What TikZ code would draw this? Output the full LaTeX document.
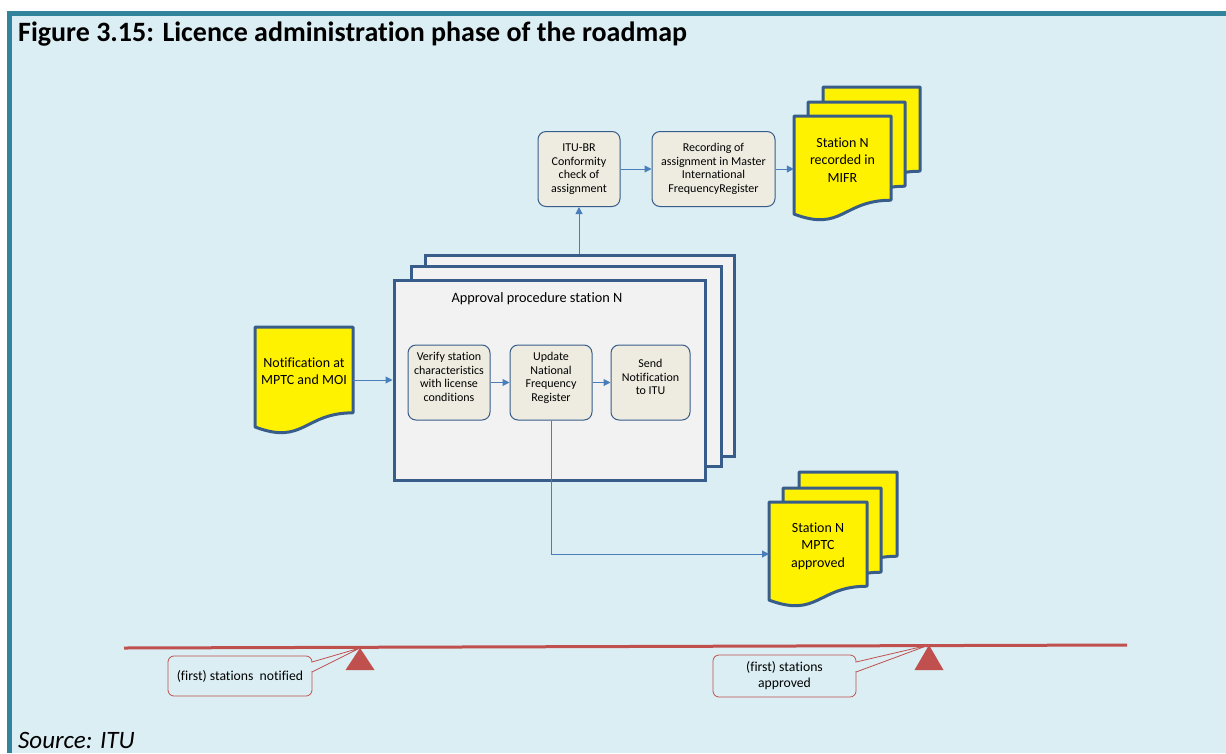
\documentclass[tikz,border=0pt]{standalone}
\usepackage{fontspec}
\setmainfont{Carlito}[Ligatures=NoCommon]
\usetikzlibrary{arrows.meta}

\definecolor{panel}{HTML}{DBEEF4}
\definecolor{frameteal}{HTML}{31849B}
\definecolor{sheetblue}{HTML}{385D8A}
\definecolor{taskfill}{HTML}{EEECE1}
\definecolor{flowblue}{HTML}{4A7EBB}
\definecolor{roadred}{HTML}{C0504D}
\definecolor{procfill}{HTML}{F2F2F2}

% document sheet: top left x, top left y, width, height
\newcommand{\docsheet}[4]{%
\draw[sheetline] (#1,#2) -- (#1+#3,#2) -- (#1+#3,#2+0.802*#4)
  .. controls (#1+0.5*#3,#2+0.802*#4) and (#1+0.5*#3,#2+1.108*#4) .. (#1,#2+0.934*#4) -- cycle;}

\begin{document}
\begin{tikzpicture}[x=1pt,y=-1pt,
  sheetline/.style={draw=sheetblue, fill=yellow, line width=3pt, line join=round},
  sheettext/.style={inner sep=0pt, minimum width=#1pt, align=center, font=\fontsize{14}{17.5}\selectfont},
  procbox/.style={draw=sheetblue, fill=procfill, line width=3pt, inner sep=0pt},
  taskbox/.style={draw=sheetblue, fill=taskfill, line width=1pt, rounded corners=8pt, align=center,
    inner sep=0pt, minimum height=75pt, font=\fontsize{12}{13.6}\selectfont},
  flow/.style={draw=flowblue, line width=1pt, -{Triangle[length=7pt,width=7pt]}},
  callout/.style={draw=roadred, fill=panel, line width=0.8pt, rounded corners=6pt, align=center,
    inner sep=0pt, font=\fontsize{13.7}{16}\selectfont},
  milestone/.style={fill=roadred}]
\useasboundingbox (0,0) rectangle (1226,753);
\fill[white] (0,0) rectangle (1226,753);
\fill[panel] (12,16) rectangle (1226,753);
\fill[frameteal] (7,11) rectangle (1226,16);
\fill[frameteal] (7,11) rectangle (12,753);

\node[anchor=base west, inner sep=0pt, font=\bfseries\fontsize{28}{32}\selectfont] (title) at (18,41) {Figure 3.15: Licence administration phase of the roadmap};
\node[anchor=base west, inner sep=0pt, font=\itshape\fontsize{25}{30}\selectfont] (source) at (18,748) {Source: ITU};

\node[taskbox, minimum width=82pt] (itubr) at (579,169) {ITU-BR\\Conformity\\check of\\assignment};
\node[taskbox, minimum width=123pt] (record) at (713.5,169) {Recording of\\assignment in Master\\International\\FrequencyRegister};

\docsheet{823}{87}{97}{105}
\docsheet{808}{102}{97}{105}
\docsheet{794}{116}{97}{105}
\node[sheettext=97] (mifr) at (842.5,160) {Station N\\recorded in\\MIFR};

\node[procbox, minimum width=309pt, minimum height=201pt] (appr3) at (579.5,355.5) {};
\node[procbox, minimum width=310pt, minimum height=200pt] (appr2) at (566,366) {};
\node[procbox, minimum width=311pt, minimum height=200pt] (appr) at (549.5,380) {};
\node[font=\fontsize{14.3}{17}\selectfont] (apprtitle) at (537,299) {Approval procedure station N};

\node[taskbox, minimum width=82pt, text depth=11pt] (verify) at (449,382.5) {Verify station\\characteristics\\with license\\conditions};
\node[taskbox, minimum width=82pt, text depth=11pt] (update) at (551,382.5) {Update\\National\\Frequency\\Register};
\node[taskbox, minimum width=79pt, text depth=11pt] (send) at (650.5,382.5) {Send\\Notification\\to ITU};

\docsheet{255}{327}{98}{107}
\node[sheettext=98] (notif) at (304,371) {Notification at\\MPTC and MOI};

\docsheet{799}{472}{98}{105}
\docsheet{783}{488}{98}{105}
\docsheet{769}{502}{98}{105}
\node[sheettext=98] (mptc) at (818,546) {Station N\\MPTC\\approved};
\coordinate (mptcin) at (769,554);

\draw[flow] (itubr.south |- appr3.north) -- (itubr.south);
\draw[flow] (itubr) -- (record);
\draw[flow] (record.east) -- (record.east -| mifr.west);
\draw[flow] (notif.east |- appr.west) -- (appr.west);
\draw[flow] (verify) -- (update);
\draw[flow] (update) -- (send);
\draw[flow] (update.south) |- (mptcin);

\draw[roadred, line width=3pt] (124,648) -- (1127,645);
\coordinate (ms1) at (360,648);
\coordinate (ms2) at (929,645);
\fill[milestone] (ms1) -- (374.5,670) -- (345.5,670) -- cycle;
\fill[milestone] (ms2) -- (943.5,670) -- (914.5,670) -- cycle;

\node[callout, minimum width=144pt, minimum height=40pt] (cnotif) at (240,676) {(first) stations\ \ notified};
\draw[roadred, line width=0.8pt, fill=panel] (312,662) -- (ms1) -- (312,672);
\draw[panel, line width=1.2pt] (312,662.6) -- (312,671.4);
\node[callout, minimum width=143pt, minimum height=42pt] (cappr) at (784.5,676) {(first) stations\\approved};
\draw[roadred, line width=0.8pt, fill=panel] (856,662) -- (ms2) -- (856,672);
\draw[panel, line width=1.2pt] (856,662.6) -- (856,671.4);
\end{tikzpicture}
\end{document}
